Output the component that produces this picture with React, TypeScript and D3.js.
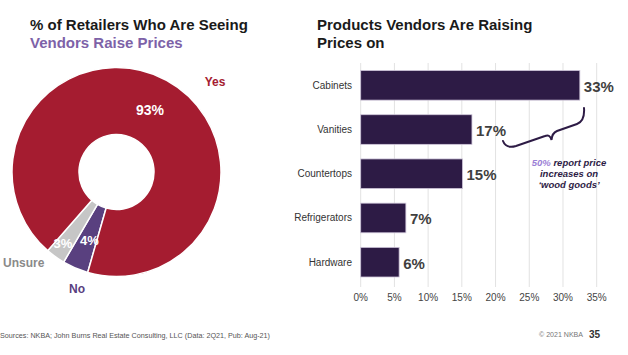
import React from "react";
import * as d3 from "d3";

const pieLabels = ["No", "Unsure", "Yes"];
const pieValues = [4, 3, 93];
const pieText = ["4%", "3%", "93%"];

const barCategories = ["Cabinets", "Vanities", "Countertops", "Refrigerators", "Hardware"];
const barValues = [32.5, 16.5, 15.1, 6.7, 5.7];
const barText = ["33%", "17%", "15%", "7%", "6%"];
const xTicks = [0, 5, 10, 15, 20, 25, 30, 35];

const FONT = "'Liberation Sans', Arial, Helvetica, sans-serif";
const RED = "#a51c30";
const PURPLE = "#59407f";
const GRAY = "#c6c6c6";
const DARK = "#2d1b45";

export default function App() {
  const W = 628, H = 355;
  // donut
  const cx = 116.5, cy = 172, rOuter = 104.5, rInner = 37.5;
  const pie = d3.pie<number>().sort(null).startAngle((196 * Math.PI) / 180).endAngle((196 * Math.PI) / 180 + 2 * Math.PI);
  const arcs = pie(pieValues);
  const arcGen = d3.arc<d3.PieArcDatum<number>>().innerRadius(rInner).outerRadius(rOuter);
  const sliceColors = [PURPLE, GRAY, RED];
  const labelPos: [number, number][] = [[89.5 - cx, 240 - cy], [63 - cx, 243 - cy], [150 - cx, 110 - cy]];

  // bars
  const x = d3.scaleLinear().domain([0, 35]).range([360.7, 596.7]);
  const y = d3.scaleBand().domain(barCategories).range([70.5, 277]).paddingInner(0.33).paddingOuter(0);

  return (
    <svg width={W} height={H} style={{ position: "absolute", left: 0, top: 0, background: "#fff" }} fontFamily={FONT}>
      {/* Left title */}
      <text x={30} y={30} fontSize={15} fontWeight="bold" fill="#1a1a1a">% of Retailers Who Are Seeing</text>
      <text x={30} y={48} fontSize={15} fontWeight="bold" fill="#7d62a8">Vendors Raise Prices</text>

      {/* Donut */}
      <g transform={`translate(${cx},${cy})`}>
        {arcs.map((a, i) => (
          <path key={i} d={arcGen(a) || ""} fill={sliceColors[i]} stroke="#fff" strokeWidth={1.5} />
        ))}
        {arcs.map((a, i) => (
          <text key={"t" + i} x={labelPos[i][0]} y={labelPos[i][1]} textAnchor="middle" dominantBaseline="central"
            fontSize={i === 2 ? 14 : 13} fontWeight="bold" fill="#fff">{pieText[i]}</text>
        ))}
      </g>
      <text x={215} y={82} textAnchor="middle" dominantBaseline="central" fontSize={12} fontWeight="bold" fill={RED}>{pieLabels[2]}</text>
      <text x={3} y={263} dominantBaseline="central" fontSize={12} fontWeight="bold" fill="#8a8a8a">{pieLabels[1]}</text>
      <text x={77} y={289} textAnchor="middle" dominantBaseline="central" fontSize={12} fontWeight="bold" fill={PURPLE}>{pieLabels[0]}</text>

      {/* Right title */}
      <text x={317} y={30} fontSize={15} fontWeight="bold" fill="#1a1a1a">Products Vendors Are Raising</text>
      <text x={317} y={48} fontSize={15} fontWeight="bold" fill="#1a1a1a">Prices on</text>

      {/* Gridlines */}
      {xTicks.map((t) => (
        <line key={t} x1={x(t)} x2={x(t)} y1={63} y2={287} stroke="#e2e2e2" strokeWidth={1} />
      ))}
      {xTicks.map((t) => (
        <text key={"xt" + t} x={x(t)} y={297} textAnchor="middle" dominantBaseline="central" fontSize={10} fill="#444">{t}%</text>
      ))}

      {/* Bars */}
      {barCategories.map((c, i) => (
        <g key={c}>
          <rect x={x(0)} y={y(c)} width={x(barValues[i]) - x(0)} height={y.bandwidth()} fill={DARK} stroke="#cfc6da" strokeWidth={0.8} />
          <text x={352} y={(y(c) || 0) + y.bandwidth() / 2} textAnchor="end" dominantBaseline="central" fontSize={10} fill="#333">{c}</text>
          <text x={x(barValues[i]) + 4} y={(y(c) || 0) + y.bandwidth() / 2 + 1} dominantBaseline="central" fontSize={15} fontWeight="bold" fill="#3f3f3f">{barText[i]}</text>
        </g>
      ))}

      {/* Brace */}
      <path d="M503,141 Q506,149 516,146 L545,136 Q550,134 551.5,140 Q552,133 557,131 L577,124 Q585,121 584,108" fill="none" stroke={DARK} strokeWidth={2} strokeLinecap="round" />

      {/* Annotation */}
      <g fontSize={9.5} fontWeight="bold" fontStyle="italic" textAnchor="middle" fill={DARK}>
        <text x={569} y={162} dominantBaseline="central"><tspan fill="#9b7fd6">50%</tspan> report price</text>
        <text x={569} y={173} dominantBaseline="central">increases on</text>
        <text x={569} y={184} dominantBaseline="central">‘wood goods’</text>
      </g>

      {/* Footer */}
      <text x={0} y={335} dominantBaseline="central" fontSize={7} fill="#555" textLength={270} lengthAdjust="spacingAndGlyphs">Sources: NKBA; John Burns Real Estate Consulting, LLC (Data: 2Q21, Pub: Aug-21)</text>
      <text x={539} y={334} dominantBaseline="central" fontSize={6.5} fill="#777" textLength={44} lengthAdjust="spacingAndGlyphs">© 2021 NKBA</text>
      <text x={589} y={334} dominantBaseline="central" fontSize={10} fontWeight="bold" fill="#333">35</text>
    </svg>
  );
}
